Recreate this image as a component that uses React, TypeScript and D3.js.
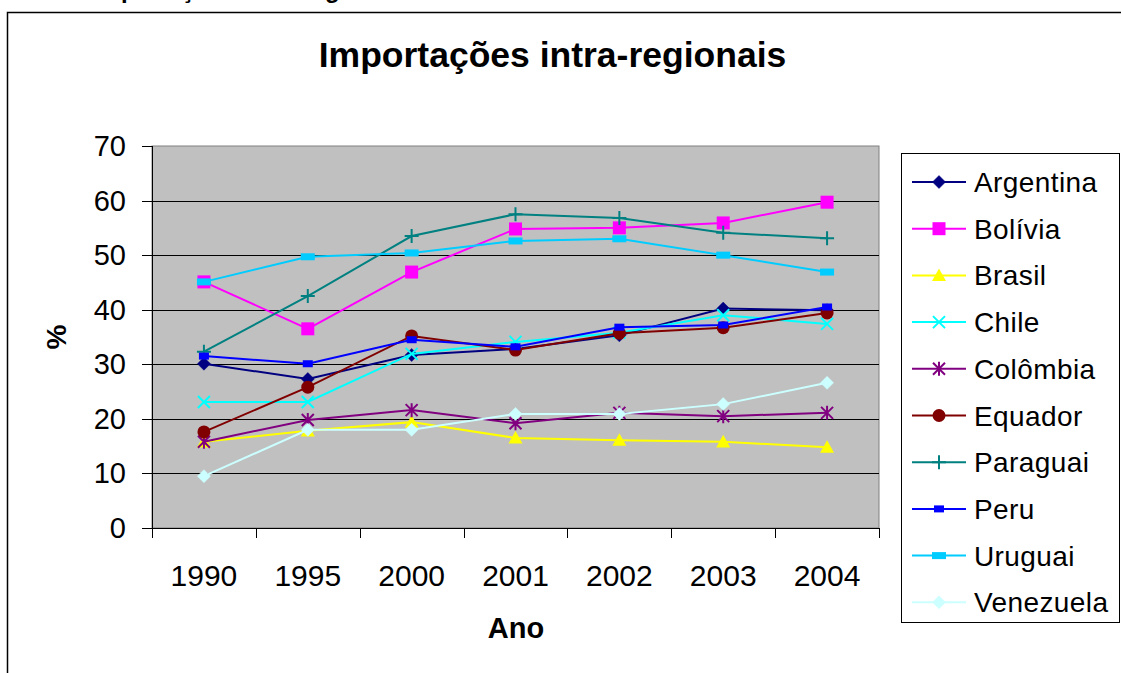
import React from "react";
import * as d3 from "d3";

const years = ["1990", "1995", "2000", "2001", "2002", "2003", "2004"];
const yTicks = [0, 10, 20, 30, 40, 50, 60, 70];

const argentina = [30.1, 27.3, 31.7, 32.8, 35.3, 40.2, 39.9];
const bolivia = [45.1, 36.5, 46.9, 54.8, 55.0, 55.9, 59.7];
const brasil = [15.8, 17.8, 19.4, 16.5, 16.1, 15.8, 14.8];
const chile = [23.1, 23.1, 31.9, 34.1, 35.8, 39.0, 37.4];
const colombia = [15.8, 19.8, 21.6, 19.2, 21.1, 20.5, 21.1];
const equador = [17.6, 25.8, 35.2, 32.6, 35.7, 36.7, 39.4];
const paraguai = [32.3, 42.5, 53.5, 57.5, 56.8, 54.1, 53.1];
const peru = [31.5, 30.1, 34.5, 33.2, 36.8, 37.2, 40.5];
const uruguai = [45.1, 49.7, 50.4, 52.6, 53.0, 50.0, 46.9];
const venezuela = [9.5, 18.0, 18.0, 20.9, 20.9, 22.7, 26.6];

const seriesNames = ["Argentina", "Bolívia", "Brasil", "Chile", "Colômbia", "Equador", "Paraguai", "Peru", "Uruguai", "Venezuela"];
const seriesValues = [argentina, bolivia, brasil, chile, colombia, equador, paraguai, peru, uruguai, venezuela];
const seriesColors = ["#000080", "#FF00FF", "#FFFF00", "#00FFFF", "#800080", "#800000", "#008080", "#0000FF", "#00CCFF", "#CCFFFF"];
const seriesMarkers = ["diamond", "square", "triangle", "x", "star", "circle", "plus", "smallrect", "rect", "diamond"];

const FONT = "'Liberation Sans', Arial, sans-serif";

function Marker({ type, x, y, color }: { type: string; x: number; y: number; color: string }) {
  switch (type) {
    case "diamond": {
      const r = 6.5;
      return <path d={`M${x},${y - r}L${x + r},${y}L${x},${y + r}L${x - r},${y}Z`} fill={color} stroke={color} strokeWidth={0.5} />;
    }
    case "square": {
      const r = 6.5;
      return <rect x={x - r} y={y - r} width={2 * r} height={2 * r} fill={color} />;
    }
    case "triangle": {
      const r = 7;
      return <path d={`M${x},${y - r}L${x + r},${y + r * 0.8}L${x - r},${y + r * 0.8}Z`} fill={color} />;
    }
    case "x": {
      const r = 6;
      return <path d={`M${x - r},${y - r}L${x + r},${y + r}M${x - r},${y + r}L${x + r},${y - r}`} stroke={color} strokeWidth={2} fill="none" />;
    }
    case "star": {
      const r = 6;
      return <path d={`M${x - r},${y - r}L${x + r},${y + r}M${x - r},${y + r}L${x + r},${y - r}M${x},${y - r - 1}L${x},${y + r + 1}`} stroke={color} strokeWidth={2} fill="none" />;
    }
    case "circle":
      return <circle cx={x} cy={y} r={6.5} fill={color} />;
    case "plus": {
      const r = 7;
      return <path d={`M${x - r},${y}L${x + r},${y}M${x},${y - r}L${x},${y + r}`} stroke={color} strokeWidth={2} fill="none" />;
    }
    case "smallrect":
      return <rect x={x - 5} y={y - 3.5} width={10} height={7} fill={color} />;
    case "rect":
      return <rect x={x - 7} y={y - 3.5} width={14} height={7} fill={color} />;
    default:
      return null;
  }
}

export default function App() {
  const left = 152, right = 879, top = 146, bottom = 528;
  const x = d3.scaleBand<string>().domain(years).range([left, right]);
  const y = d3.scaleLinear().domain([0, 70]).range([bottom, top]);
  const line = d3
    .line<number>()
    .x((_, i) => (x(years[i]) as number) + x.bandwidth() / 2)
    .y((d) => y(d));

  const boundaries = years.map((yr) => x(yr) as number).concat([right]);

  const legendX = 901, legendY = 153, legendRow = 46.7, legendFirst = 182;

  return (
    <svg width={1121} height={673} style={{ position: "absolute", left: 0, top: 0 }} fontFamily={FONT}>
      <rect x={0} y={0} width={1121} height={673} fill="#ffffff" />
      {/* caption above the frame, cut by the page edge as in the source */}
      <text x={93} y={-2} fontSize={24} fontWeight="bold" fill="#000">Importações intra-regionais</text>
      {/* outer chart frame */}
      <rect x={7.5} y={12.5} width={1130} height={700} fill="none" stroke="#000" strokeWidth={1.5} />

      {/* title */}
      <text x={552.5} y={67} textAnchor="middle" fontSize={35.5} fontWeight="bold">
        Importações intra-regionais
      </text>

      {/* plot area */}
      <rect x={left} y={top} width={right - left} height={bottom - top} fill="#C0C0C0" stroke="#808080" strokeWidth={1} />
      {yTicks.filter((t) => t > 0 && t < 70).map((t) => (
        <line key={t} x1={left} x2={right} y1={Math.round(y(t)) + 0.5} y2={Math.round(y(t)) + 0.5} stroke="#000" strokeWidth={1} />
      ))}

      {/* y axis */}
      <line x1={left + 0.5} x2={left + 0.5} y1={top} y2={bottom} stroke="#000" strokeWidth={1} />
      {yTicks.map((t) => (
        <g key={t}>
          <line x1={left - 10} x2={left} y1={Math.round(y(t)) + 0.5} y2={Math.round(y(t)) + 0.5} stroke="#000" />
          <text x={126} y={y(t) + 10} textAnchor="end" fontSize={29}>{t}</text>
        </g>
      ))}
      <text transform={`translate(66,337) rotate(-90)`} textAnchor="middle" fontSize={28} fontWeight="bold">%</text>

      {/* x axis */}
      <line x1={left} x2={right} y1={bottom + 0.5} y2={bottom + 0.5} stroke="#000" strokeWidth={1} />
      {boundaries.map((b, i) => (
        <line key={i} x1={Math.round(b) + 0.5} x2={Math.round(b) + 0.5} y1={bottom} y2={bottom + 10} stroke="#000" />
      ))}
      {years.map((yr) => (
        <text key={yr} x={(x(yr) as number) + x.bandwidth() / 2} y={586} textAnchor="middle" fontSize={30}>{yr}</text>
      ))}
      <text x={516} y={638} textAnchor="middle" fontSize={29} fontWeight="bold">Ano</text>

      {/* series */}
      {seriesValues.map((vals, si) => (
        <g key={seriesNames[si]}>
          <path d={line(vals) || ""} fill="none" stroke={seriesColors[si]} strokeWidth={2} />
          {vals.map((v, i) => (
            <Marker key={i} type={seriesMarkers[si]} x={(x(years[i]) as number) + x.bandwidth() / 2} y={y(v)} color={seriesColors[si]} />
          ))}
        </g>
      ))}

      {/* legend */}
      <rect x={legendX + 0.5} y={legendY + 0.5} width={1119 - legendX} height={622 - legendY} fill="#fff" stroke="#000" strokeWidth={1} />
      {seriesNames.map((name, i) => {
        const cy = legendFirst + i * legendRow;
        return (
          <g key={name}>
            <line x1={912} x2={966} y1={cy} y2={cy} stroke={seriesColors[i]} strokeWidth={2} />
            <Marker type={seriesMarkers[i]} x={939} y={cy} color={seriesColors[i]} />
            <text x={974} y={cy + 10} fontSize={28} letterSpacing={0.4}>{name}</text>
          </g>
        );
      })}
    </svg>
  );
}
